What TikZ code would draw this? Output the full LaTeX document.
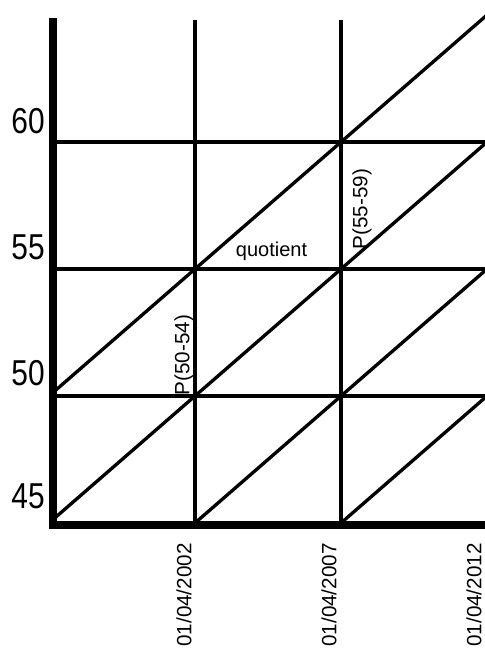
\documentclass[tikz,border=0pt]{standalone}
\usepackage{fontspec}
\setmainfont{Liberation Sans}
\newcommand{\narrowtxt}[1]{\scalebox{0.83}[1]{#1}}
\begin{document}
\begin{tikzpicture}[x=0.75pt,y=-0.75pt,
  grid/.style={line width=2.5pt,black},
  axisline/.style={line width=6pt,black},
  ylab/.style={anchor=base east,inner sep=0pt,font=\fontsize{27}{27}\selectfont},
  datelab/.style={rotate=90,anchor=east,inner sep=0pt,font=\fontsize{15.5}{15.5}\selectfont},
  plab/.style={rotate=90,inner sep=0pt,font=\fontsize{15.5}{15.5}\selectfont},
  qlab/.style={anchor=base,inner sep=0pt,font=\fontsize{15}{15}\selectfont}]
\useasboundingbox (0,0) rectangle (485,651);
% grid
\foreach \yy in {142,269,396} \draw[grid] (56,\yy) -- (485,\yy);
\foreach \xx in {195,341} \draw[grid] (\xx,20) -- (\xx,523);
% diagonals
\begin{scope}
\clip (49,10) rectangle (485,523);
\draw[grid] (49,523) -- (487,142);
\draw[grid] (49,396) -- (487,15);
\draw[grid] (195,523) -- (487,269);
\draw[grid] (341,523) -- (487,396);
\end{scope}
% axes
\draw[axisline] (53,18) -- (53,529);
\draw[axisline] (49,525) -- (485,525);
% y labels
\node[ylab] (y60) at (45,133) {\narrowtxt{60}};
\node[ylab] (y55) at (45,259) {\narrowtxt{55}};
\node[ylab] (y50) at (45,385) {\narrowtxt{50}};
\node[ylab] (y45) at (45,508) {\narrowtxt{45}};
% date labels
\node[datelab] (d2002) at (184,543) {01/04/2002};
\node[datelab] (d2007) at (329,543) {01/04/2007};
\node[datelab] (d2012) at (474,543) {01/04/2012};
% other labels
\node[plab] (p50) at (184,355) {P(50-54)};
\node[plab] (p55) at (362,209) {P(55-59)};
\node[qlab] (q) at (271.5,256) {quotient};
\end{tikzpicture}
\end{document}
